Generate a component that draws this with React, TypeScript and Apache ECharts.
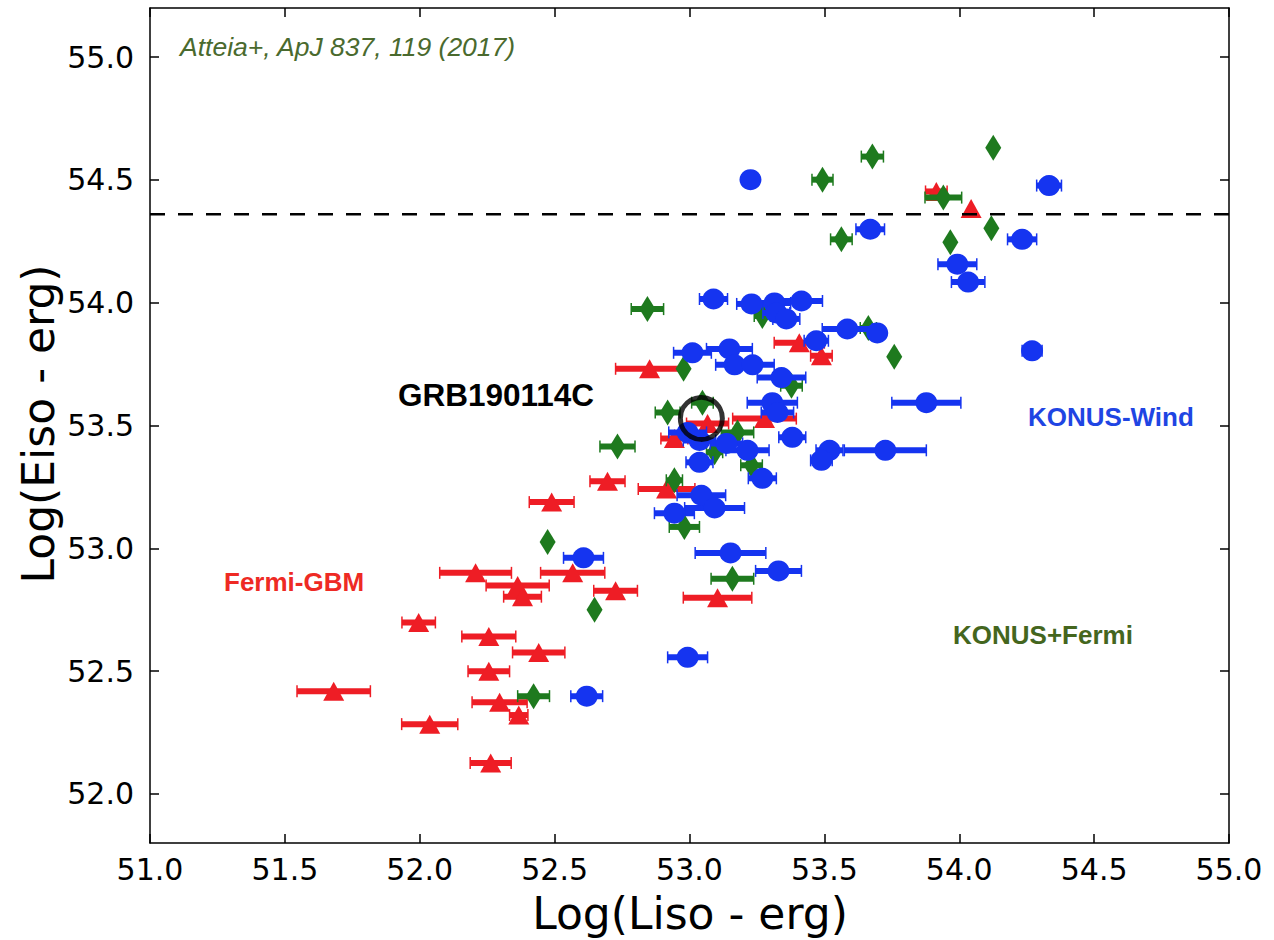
import React, { useEffect, useRef } from "react";
import * as echarts from "echarts";

// Tick values
const xTicks = [51.0, 51.5, 52.0, 52.5, 53.0, 53.5, 54.0, 54.5, 55.0];
const yTicks = [52.0, 52.5, 53.0, 53.5, 54.0, 54.5, 55.0];

// [Log Liso, Log Eiso, half-width of Liso error]
const konusWind = [
  [53.226, 54.501, 0],
  [54.333, 54.477, 0.046],
  [53.67, 54.299, 0.053],
  [54.233, 54.258, 0.054],
  [53.993, 54.157, 0.072],
  [54.033, 54.084, 0.062],
  [54.27, 53.804, 0.037],
  [53.089, 54.015, 0.052],
  [53.23, 53.995, 0.055],
  [53.315, 53.999, 0.06],
  [53.415, 54.007, 0.078],
  [53.322, 53.958, 0.05],
  [53.359, 53.934, 0.05],
  [53.585, 53.893, 0.093],
  [53.696, 53.877, 0.03],
  [53.47, 53.845, 0.045],
  [53.011, 53.796, 0.07],
  [53.148, 53.812, 0.085],
  [53.167, 53.747, 0.07],
  [53.234, 53.747, 0.08],
  [53.341, 53.695, 0.09],
  [53.307, 53.593, 0.093],
  [53.878, 53.593, 0.128],
  [53.326, 53.553, 0.06],
  [53.381, 53.452, 0.05],
  [53.726, 53.399, 0.152],
  [53.519, 53.399, 0.05],
  [53.489, 53.358, 0.04],
  [52.993, 53.472, 0.07],
  [53.037, 53.439, 0.06],
  [53.137, 53.427, 0.06],
  [53.215, 53.399, 0.08],
  [53.037, 53.35, 0.05],
  [53.27, 53.285, 0.052],
  [53.044, 53.216, 0.09],
  [52.944, 53.143, 0.074],
  [53.093, 53.164, 0.111],
  [52.607, 52.961, 0.074],
  [53.152, 52.981, 0.131],
  [53.33, 52.908, 0.085],
  [52.993, 52.556, 0.074],
  [52.619, 52.398, 0.059],
];

const fermiGBM = [
  [53.915, 54.453, 0.04],
  [54.044, 54.384, 0],
  [53.407, 53.837, 0.093],
  [53.489, 53.784, 0.04],
  [52.852, 53.731, 0.126],
  [53.278, 53.528, 0.118],
  [53.067, 53.508, 0.078],
  [52.944, 53.447, 0.05],
  [52.696, 53.273, 0.065],
  [52.915, 53.241, 0.105],
  [52.489, 53.188, 0.083],
  [52.207, 52.9, 0.133],
  [52.567, 52.9, 0.119],
  [52.363, 52.848, 0.117],
  [52.381, 52.803, 0.07],
  [52.726, 52.827, 0.081],
  [53.104, 52.799, 0.127],
  [51.996, 52.698, 0.062],
  [52.256, 52.641, 0.1],
  [52.441, 52.576, 0.097],
  [52.256, 52.499, 0.077],
  [51.681, 52.418, 0.136],
  [52.296, 52.373, 0.102],
  [52.367, 52.321, 0.034],
  [52.037, 52.284, 0.104],
  [52.263, 52.126, 0.076],
];

const konusFermi = [
  [54.126, 54.631, 0],
  [53.678, 54.595, 0.041],
  [53.493, 54.501, 0.039],
  [53.941, 54.428, 0.068],
  [54.119, 54.303, 0],
  [53.563, 54.258, 0.04],
  [53.967, 54.246, 0],
  [52.844, 53.974, 0.06],
  [53.27, 53.946, 0.03],
  [53.663, 53.897, 0.03],
  [53.759, 53.78, 0],
  [52.978, 53.731, 0],
  [53.378, 53.662, 0.04],
  [53.048, 53.593, 0.04],
  [52.919, 53.553, 0.046],
  [53.178, 53.472, 0.06],
  [52.733, 53.415, 0.065],
  [53.093, 53.391, 0.03],
  [53.23, 53.338, 0.04],
  [52.944, 53.277, 0.03],
  [52.981, 53.087, 0.056],
  [52.474, 53.026, 0],
  [53.159, 52.876, 0.079],
  [52.648, 52.75, 0],
  [52.422, 52.398, 0.059],
];

const grb190114c = [[53.044, 53.529]];
const eisoLimit = 54.36;

const RED = "#ee1d25";
const GREEN = "#1e7a1e";
const BLUE = "#1534f0";

function errorBars(name: string, data: number[][], color: string, z: number) {
  return {
    type: "custom",
    name: name + " err",
    z,
    silent: true,
    xAxisIndex: 0,
    yAxisIndex: 0,
    encode: { x: 0, y: 1 },
    data,
    renderItem: (params: any, api: any) => {
      const x = api.value(0);
      const y = api.value(1);
      const e = api.value(2);
      if (!e) return { type: "group", children: [] };
      const p0 = api.coord([x - e, y]);
      const p1 = api.coord([x + e, y]);
      return {
        type: "group",
        children: [
          {
            type: "line",
            shape: { x1: p0[0], y1: p0[1], x2: p1[0], y2: p1[1] },
            style: { stroke: color, lineWidth: 6 },
          },
          {
            type: "line",
            shape: { x1: p0[0], y1: p0[1] - 6, x2: p0[0], y2: p0[1] + 6 },
            style: { stroke: color, lineWidth: 1.5 },
          },
          {
            type: "line",
            shape: { x1: p1[0], y1: p1[1] - 6, x2: p1[0], y2: p1[1] + 6 },
            style: { stroke: color, lineWidth: 1.5 },
          },
        ],
      };
    },
  };
}

function markers(name: string, data: number[][], color: string, symbol: string, size: number[], z: number) {
  return {
    type: "scatter",
    name,
    z,
    data,
    encode: { x: 0, y: 1 },
    symbol,
    symbolSize: size,
    itemStyle: { color, opacity: 1 },
    silent: true,
  };
}

const axisLineStyle = { color: "#000", width: 1.5 };

export default function App() {
  const ref = useRef<HTMLDivElement>(null);
  useEffect(() => {
    if (!ref.current) return;
    const chart = echarts.init(ref.current, null, { renderer: "svg" });
    const option: any = {
      animation: false,
      backgroundColor: "#fff",
      grid: { left: 150, right: 45, top: 8, bottom: 97 },
      xAxis: [
        {
          type: "value",
          position: "bottom",
          min: 51,
          max: 55,
          interval: 0.5,
          axisLine: { show: true, onZero: false, lineStyle: axisLineStyle },
          axisTick: { show: true, inside: true, length: 9, lineStyle: axisLineStyle, customValues: xTicks },
          axisLabel: {
            customValues: xTicks,
            formatter: (v: number) => v.toFixed(1),
            fontFamily: "DejaVu Sans",
            fontSize: 30,
            color: "#000",
            margin: 11,
          },
          splitLine: { show: false },
        },
        {
          type: "value",
          position: "top",
          min: 51,
          max: 55,
          interval: 0.5,
          axisLine: { show: true, onZero: false, lineStyle: axisLineStyle },
          axisTick: { show: true, inside: true, length: 9, lineStyle: axisLineStyle, customValues: xTicks },
          axisLabel: { show: false },
          splitLine: { show: false },
        },
      ],
      yAxis: [
        {
          type: "value",
          position: "left",
          min: 51.8,
          max: 55.2,
          axisLine: { show: true, onZero: false, lineStyle: axisLineStyle },
          axisTick: { show: true, inside: true, length: 9, lineStyle: axisLineStyle, customValues: yTicks },
          axisLabel: {
            customValues: yTicks,
            formatter: (v: number) => v.toFixed(1),
            fontFamily: "DejaVu Sans",
            fontSize: 30,
            color: "#000",
            margin: 16,
          },
          splitLine: { show: false },
        },
        {
          type: "value",
          position: "right",
          min: 51.8,
          max: 55.2,
          axisLine: { show: true, onZero: false, lineStyle: axisLineStyle },
          axisTick: { show: true, inside: true, length: 9, lineStyle: axisLineStyle, customValues: yTicks },
          axisLabel: { show: false },
          splitLine: { show: false },
        },
      ],
      series: [
        {
          type: "line",
          name: "limit",
          data: [
            [xTicks[0], eisoLimit],
            [xTicks[xTicks.length - 1], eisoLimit],
          ],
          symbol: "none",
          z: 20,
          silent: true,
          lineStyle: { color: "#000", width: 2.5, type: [15, 13] },
        },
        errorBars("Fermi-GBM", fermiGBM, RED, 2),
        markers("Fermi-GBM", fermiGBM, RED, "triangle", [21, 19], 3),
        errorBars("KONUS+Fermi", konusFermi, GREEN, 4),
        markers("KONUS+Fermi", konusFermi, GREEN, "diamond", [16, 26], 5),
        errorBars("KONUS-Wind", konusWind, BLUE, 6),
        markers("KONUS-Wind", konusWind, BLUE, "circle", [22, 21], 7),
        {
          type: "scatter",
          name: "GRB190114C",
          data: grb190114c,
          symbol: "circle",
          symbolSize: 42,
          z: 30,
          silent: true,
          itemStyle: { color: "rgba(0,0,0,0)", borderColor: "#000", borderWidth: 5 },
        },
      ],
      graphic: [
        {
          type: "text",
          left: 180,
          top: 33,
          style: {
            text: "Atteia+, ApJ 837, 119 (2017)",
            fontFamily: "Liberation Sans",
            fontStyle: "italic",
            fontSize: 26.5,
            fill: "#4a6a2e",
          },
        },
        {
          type: "text",
          left: 398,
          top: 379,
          style: {
            text: "GRB190114C",
            fontFamily: "Liberation Sans",
            fontWeight: "bold",
            fontSize: 31.5,
            fill: "#000",
          },
        },
        {
          type: "text",
          left: 224,
          top: 569,
          style: {
            text: "Fermi-GBM",
            fontFamily: "Liberation Sans",
            fontWeight: "bold",
            fontSize: 26,
            fill: "#ee2a24",
          },
        },
        {
          type: "text",
          left: 1028,
          top: 404,
          style: {
            text: "KONUS-Wind",
            fontFamily: "Liberation Sans",
            fontWeight: "bold",
            fontSize: 26,
            fill: "#1f45e3",
          },
        },
        {
          type: "text",
          left: 953,
          top: 622,
          style: {
            text: "KONUS+Fermi",
            fontFamily: "Liberation Sans",
            fontWeight: "bold",
            fontSize: 26,
            fill: "#44661e",
          },
        },
        {
          type: "text",
          x: 690,
          y: 913,
          style: {
            text: "Log(Liso - erg)",
            fontFamily: "DejaVu Sans",
            fontSize: 44,
            fill: "#000",
            align: "center",
            verticalAlign: "middle",
          },
        },
        {
          type: "text",
          x: 38,
          y: 424,
          rotation: Math.PI / 2,
          style: {
            text: "Log(Eiso - erg)",
            fontFamily: "DejaVu Sans",
            fontSize: 44,
            fill: "#000",
            align: "center",
            verticalAlign: "middle",
          },
        },
      ],
    };
    chart.setOption(option);
    return () => chart.dispose();
  }, []);
  return (
    <div
      ref={ref}
      style={{ position: "fixed", left: 0, top: 0, width: 1274, height: 940, background: "#fff" }}
    />
  );
}
